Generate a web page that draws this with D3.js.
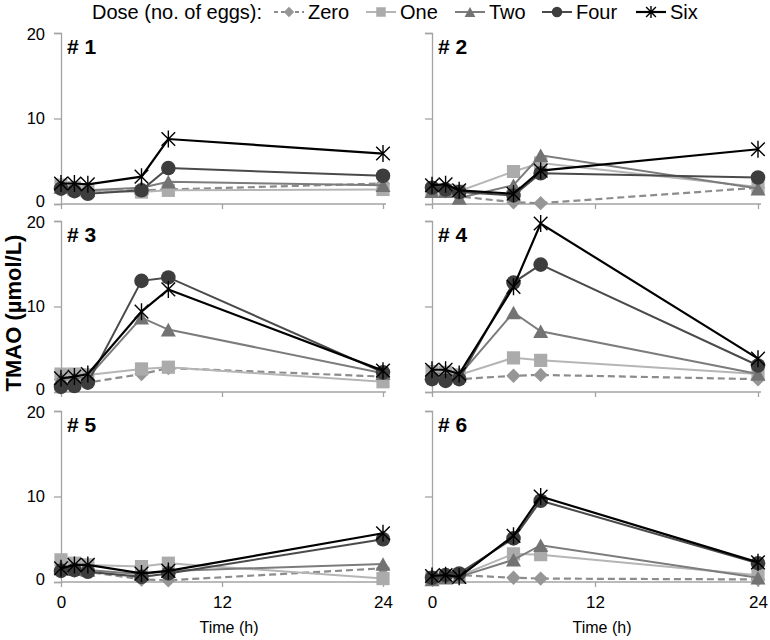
<!DOCTYPE html>
<html><head><meta charset="utf-8">
<script src="https://cdn.jsdelivr.net/npm/d3@7"></script>
<style>body{margin:0;background:#fff}svg{display:block}text{font-family:"Liberation Sans",Arial,sans-serif}</style>
</head><body>
<svg id="c" width="770" height="640"></svg>
<script>
const times = [0, 1, 2, 6, 8, 24];
const seriesNames = ["Zero", "One", "Two", "Four", "Six"];
const panelLabels = ["# 1", "# 2", "# 3", "# 4", "# 5", "# 6"];
const xTicks = [0, 12, 24];
const yTicks = [0, 10, 20];

// values per panel, rows follow seriesNames order
const panel1 = [[1.8,1.7,1.5,1.6,1.7,2.4],[2.2,1.9,1.6,1.4,1.6,1.7],[2.0,1.8,1.6,1.9,2.6,2.2],[1.8,1.5,1.2,1.6,4.2,3.3],[2.4,2.4,2.3,3.2,7.6,5.9]];
const panel2 = [[1.8,1.5,0.9,0.2,0.1,1.9],[1.6,1.6,1.5,3.8,4.8,2.0],[1.5,1.5,0.7,2.2,5.7,1.8],[1.9,1.7,1.4,1.0,3.6,3.1],[2.2,2.3,1.6,1.2,3.9,6.4]];
const panel3 = [[1.5,1.3,1.1,2.1,2.8,1.8],[2.1,2.1,2.0,2.7,2.9,1.2],[1.6,1.6,1.7,8.7,7.3,2.2],[0.6,0.7,1.1,13.0,13.4,2.3],[1.6,1.8,2.1,9.4,12.0,2.5]];
const panel4 = [[1.6,1.6,1.5,1.9,2.0,1.5],[2.4,2.3,2.0,4.0,3.7,2.1],[2.2,2.1,1.9,9.3,7.1,2.1],[1.5,1.3,1.5,12.8,14.9,3.1],[2.6,2.6,2.1,12.3,19.7,3.9]];
const panel5 = [[1.5,1.3,1.2,0.3,0.2,1.6],[2.6,2.2,2.0,1.8,2.2,0.4],[1.8,1.5,1.4,0.9,1.3,2.1],[1.3,1.4,1.2,0.6,1.0,5.0],[1.6,2.0,2.0,1.0,1.3,5.7]];
const panel6 = [[0.6,0.7,0.8,0.5,0.4,0.3],[0.5,0.6,0.7,3.3,3.2,0.8],[0.3,0.5,0.6,2.6,4.3,0.5],[0.5,0.8,1.0,5.1,9.5,2.2],[0.7,0.8,0.6,5.4,10.0,2.3]];
const panelData = [panel1, panel2, panel3, panel4, panel5, panel6];

const styles = {
  Zero: {stroke:"#8c8c8c", fill:"#969696", dash:"7,4", sym:"diamond", w:2.2},
  One:  {stroke:"#b5b5b5", fill:"#ababab", dash:null, sym:"square", w:2},
  Two:  {stroke:"#7c7c7c", fill:"#737373", dash:null, sym:"triangle", w:2},
  Four: {stroke:"#4a4a4a", fill:"#3d3d3d", dash:null, sym:"circle", w:2},
  Six:  {stroke:"#000", fill:"none", dash:null, sym:"star", w:2.2}
};

const svg = d3.select("#c");
const colX = [[61, 383], [432, 758]];
const rowY0 = [204, 392, 582];
const pH = 171;
const axisCol = "#a3a3a3";

function drawMarker(g, sym, cx, cy, st, legend) {
  const sc = legend ? 0.72 : 1;
  const p = d3.path();
  if (sym === "star") {
    const r = 8.5 * sc;
    p.moveTo(cx - r*0.8, cy - r*0.8); p.lineTo(cx + r*0.8, cy + r*0.8);
    p.moveTo(cx + r*0.8, cy - r*0.8); p.lineTo(cx - r*0.8, cy + r*0.8);
    p.moveTo(cx, cy - r); p.lineTo(cx, cy + r);
    g.append("path").attr("d", p.toString()).attr("stroke", "#000").attr("stroke-width", 1.4).attr("fill", "none");
    return;
  }
  if (sym === "circle") {
    g.append("circle").attr("cx", cx).attr("cy", cy).attr("r", 7.3 * sc).attr("fill", st.fill);
    return;
  }
  if (sym === "square") {
    const h = 6.6 * sc;
    p.rect(cx - h, cy - h, 2*h, 2*h);
  } else if (sym === "diamond") {
    const h = 7.2 * sc;
    p.moveTo(cx, cy - h); p.lineTo(cx + h, cy); p.lineTo(cx, cy + h); p.lineTo(cx - h, cy); p.closePath();
  } else if (sym === "triangle") {
    const w = 7.5 * sc, h = 6.8 * sc;
    p.moveTo(cx, cy - h); p.lineTo(cx + w, cy + h); p.lineTo(cx - w, cy + h); p.closePath();
  }
  g.append("path").attr("d", p.toString()).attr("fill", st.fill);
}

panelData.forEach((pd, i) => {
  const col = i % 2, row = Math.floor(i / 2);
  const x = d3.scaleLinear().domain([0, 24]).range(colX[col]);
  const y = d3.scaleLinear().domain([0, 20]).range([rowY0[row], rowY0[row] - pH]);
  const g = svg.append("g");

  const ya = d3.axisLeft(y).tickValues(yTicks).tickSize(7).tickPadding(9)
    .tickFormat(col === 0 ? d3.format("d") : () => "");
  const yg = g.append("g").attr("transform", `translate(${colX[col][0]},0)`).call(ya);
  yg.select(".domain").attr("stroke", axisCol).attr("stroke-width", 1.3);
  yg.selectAll(".tick line").attr("stroke", axisCol).attr("stroke-width", 1.3);
  yg.selectAll(".tick text").attr("font-size", 16.5).attr("fill", "#000")
    .attr("font-family", "Liberation Sans, Arial, sans-serif")
    .attr("y", d => d === 0 ? -2.5 : (d === 20 ? 1 : 0));

  const xa = d3.axisBottom(x).tickValues(xTicks).tickSize(5).tickPadding(9)
    .tickFormat(row === 2 ? d3.format("d") : () => "");
  const xg = g.append("g").attr("transform", `translate(0,${rowY0[row]})`).call(xa);
  xg.select(".domain").attr("stroke", axisCol).attr("stroke-width", 1.3).attr("d", `M${colX[col][0]},0H${colX[col][1] + 3}`);
  xg.selectAll(".tick line").attr("stroke", axisCol).attr("stroke-width", 1.3);
  xg.selectAll(".tick text").attr("font-size", 17).attr("fill", "#000").attr("font-family", "Liberation Sans, Arial, sans-serif");

  g.append("text").attr("x", colX[col][0] + 6).attr("y", rowY0[row] - pH + 21)
    .attr("font-size", 21).attr("font-weight", "bold").text(panelLabels[i]);

  seriesNames.forEach((name, si) => {
    const st = styles[name];
    const vals = pd[si];
    const line = d3.line().x((d, k) => x(times[k])).y(d => y(d));
    g.append("path").datum(vals).attr("d", line).attr("fill", "none")
      .attr("stroke", st.stroke).attr("stroke-width", st.w)
      .attr("stroke-dasharray", st.dash);
    vals.forEach((v, k) => drawMarker(g, st.sym, x(times[k]), y(v), st, false));
  });

  if (row === 2) {
    g.append("text").attr("x", (colX[col][0] + colX[col][1]) / 2 + 7).attr("y", 633)
      .attr("text-anchor", "middle").attr("font-size", 16).text("Time (h)");
  }
});

svg.append("text").attr("transform", "translate(21,313) rotate(-90)")
  .attr("text-anchor", "middle").attr("font-size", 22).attr("font-weight", "bold")
  .text("TMAO (µmol/L)");

const lg = svg.append("g");
lg.append("text").attr("x", 92).attr("y", 19).attr("font-size", 20).text("Dose (no. of eggs):");
const legX = [274, 366, 455, 542, 636];
seriesNames.forEach((name, si) => {
  const st = styles[name];
  const x0 = legX[si];
  lg.append("line").attr("x1", x0).attr("x2", x0 + 30).attr("y1", 12).attr("y2", 12)
    .attr("stroke", st.stroke).attr("stroke-width", st.w).attr("stroke-dasharray", st.dash ? "4,3" : null);
  drawMarker(lg, st.sym, x0 + 15, 12, st, true);
  lg.append("text").attr("x", x0 + 34).attr("y", 19).attr("font-size", 20).text(name);
});
</script>
</body></html>
